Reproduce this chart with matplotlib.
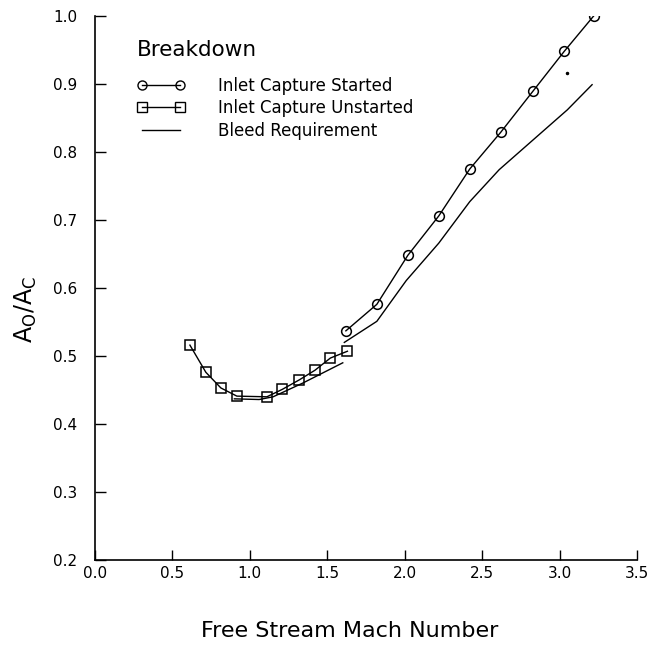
import matplotlib
matplotlib.use("Agg")
import matplotlib.pyplot as plt
from matplotlib.lines import Line2D

plt.rcParams['font.family'] = ['DejaVu Sans']

# Inlet capture area ratio vs free stream Mach number
mach_started = [1.62, 1.82, 2.02, 2.22, 2.42, 2.62, 2.83, 3.03, 3.22]
ratio_started = [0.537, 0.576, 0.648, 0.706, 0.775, 0.829, 0.890, 0.948, 1.000]

mach_unstarted = [0.613, 0.716, 0.813, 0.916, 1.11, 1.21, 1.32, 1.42, 1.52, 1.63]
ratio_unstarted = [0.516, 0.476, 0.453, 0.441, 0.440, 0.451, 0.465, 0.479, 0.497, 0.507]

# bleed requirement, drawn as two branches
bleed_low_mach = [0.90, 1.06, 1.15, 1.34, 1.47, 1.60]
bleed_low_ratio = [0.437, 0.436, 0.440, 0.460, 0.475, 0.490]
bleed_high_mach = [1.61, 1.82, 2.01, 2.22, 2.42, 2.61, 2.83, 3.05, 3.21]
bleed_high_ratio = [0.520, 0.551, 0.611, 0.666, 0.727, 0.774, 0.818, 0.862, 0.899]

stray_mach = [3.05]
stray_ratio = [0.916]

x_ticks = [0.0, 0.5, 1.0, 1.5, 2.0, 2.5, 3.0, 3.5]
y_ticks = [0.2, 0.3, 0.4, 0.5, 0.6, 0.7, 0.8, 0.9, 1.0]

fig = plt.figure(figsize=(6.52, 6.48), dpi=100)
ax = fig.add_axes([0.1457, 0.1358, 0.8313, 0.8395])

ax.plot(mach_started, ratio_started, color='black', lw=1.0, marker='o', ms=7,
        mfc='none', mec='black', mew=1.1)
ax.plot(mach_unstarted, ratio_unstarted, color='black', lw=1.0, marker='s', ms=6.5,
        mfc='none', mec='black', mew=1.1)
ax.plot(bleed_low_mach, bleed_low_ratio, color='black', lw=1.0)
ax.plot(bleed_high_mach, bleed_high_ratio, color='black', lw=1.0)
ax.plot(stray_mach, stray_ratio, 'k.', ms=3)

ax.set_xlim(0.0, 3.5)
ax.set_ylim(0.2, 1.0)
ax.set_xticks(x_ticks)
ax.set_yticks(y_ticks)
ax.set_xticklabels([f'{v:.1f}' for v in x_ticks], fontsize=11)
ax.set_yticklabels([f'{v:.1f}' for v in y_ticks], fontsize=11)
ax.tick_params(axis='x', direction='in', length=7, width=1.0, pad=4)
ax.tick_params(axis='y', direction='in', length=8, width=1.0, pad=13)

for side in ['top', 'right']:
    ax.spines[side].set_visible(False)
for side in ['left', 'bottom']:
    ax.spines[side].set_linewidth(1.2)

ax.set_xlabel('Free Stream Mach Number', fontsize=16)
ax.xaxis.set_label_coords(0.469, -0.112)
ax.set_ylabel(r'$\mathregular{A_O/A_C}$', fontsize=17)
ax.yaxis.set_label_coords(-0.103, 0.46)

ax.text(0.0775, 0.9375, 'Breakdown', transform=ax.transAxes, fontsize=15.5,
        ha='left', va='center')

handles = [
    Line2D([], [], color='black', lw=1.0, marker='o', ms=6.5, mfc='none', mec='black'),
    Line2D([], [], color='black', lw=1.0, marker='s', ms=6.5, mfc='none', mec='black'),
    Line2D([], [], color='black', lw=1.0),
]
labels = ['Inlet Capture Started', 'Inlet Capture Unstarted', 'Bleed Requirement']
leg = ax.legend(handles, labels, fontsize=12,
                loc='upper left', bbox_to_anchor=(0.0775, 0.888), frameon=False,
                borderpad=0, borderaxespad=0, numpoints=2, handlelength=2.9,
                handletextpad=1.95, labelspacing=0.26)

fig.savefig('out.png', dpi=100)
